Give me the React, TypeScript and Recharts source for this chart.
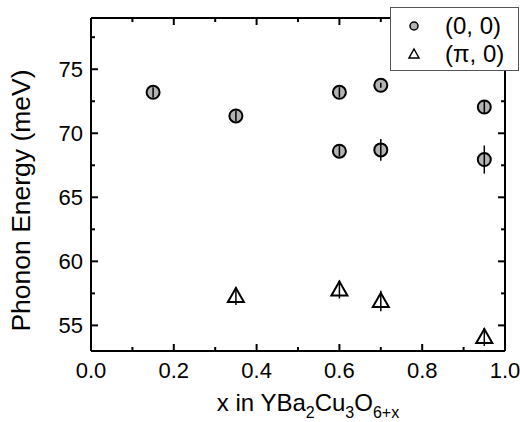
import React from 'react';
import { ScatterChart, Scatter, XAxis, YAxis, ErrorBar, Legend, Label, ReferenceLine } from 'recharts';

// (0, 0) points
const circleX = [0.15, 0.35, 0.6, 0.6, 0.7, 0.7, 0.95, 0.95];
const circleY = [73.2, 71.35, 73.2, 68.6, 73.75, 68.7, 72.05, 67.95];
const circleErr = [0.4, 0.4, 0.4, 0.4, 0.2, 0.85, 0.5, 1.1];

// (pi, 0) points
const triX = [0.35, 0.6, 0.7, 0.95];
const triY = [57.3, 57.8, 56.9, 54.1];
const triErr = [0.7, 0.7, 0.8, 0.7];

const xTicks = [0, 0.1, 0.2, 0.3, 0.4, 0.5, 0.6, 0.7, 0.8, 0.9, 1.0];
const xMajor = [0, 0.2, 0.4, 0.6, 0.8, 1.0];
const yTicks = [55, 57.5, 60, 62.5, 65, 67.5, 70, 72.5, 75, 77.5];
const yMajor = [55, 60, 65, 70, 75];
const xDomain = [0, 1];
const yDomain = [53, 79];

const seriesNames = ['(0, 0)', '(\u03c0, 0)'];

const circleData = circleX.map((x, i) => ({ x, y: circleY[i], err: circleErr[i] }));
const triData = triX.map((x, i) => ({ x, y: triY[i], err: triErr[i] }));

// layout
const W = 520;
const H = 422;
const MARGIN = { top: 18, right: 15, bottom: 0, left: 0 };
const PLOT_TOP = MARGIN.top;
const PLOT_RIGHT = W - MARGIN.right;

const FONT = '"Liberation Sans", Arial, sans-serif';
const isMajor = (list: number[], v: number) => list.some((m) => Math.abs(m - v) < 1e-6);
const black2 = { stroke: '#000', strokeWidth: 2 };

// bottom tick + label, and the matching inward tick on the top frame
const BottomTick = (props: any) => {
  const { x, y, payload } = props;
  const len = isMajor(xMajor, payload.value) ? 7 : 4;
  return (
    <g>
      <line x1={x} x2={x} y1={y} y2={y - len} {...black2} />
      <line x1={x} x2={x} y1={PLOT_TOP} y2={PLOT_TOP + len} {...black2} />
      {len === 7 && (
        <text x={x} y={y + 27} textAnchor="middle" fontSize={22} fontFamily={FONT} fill="#000">
          {payload.value.toFixed(1)}
        </text>
      )}
    </g>
  );
};

// left tick + label, and the matching inward tick on the right frame
const LeftTick = (props: any) => {
  const { x, y, payload } = props;
  const len = isMajor(yMajor, payload.value) ? 7 : 4;
  return (
    <g>
      <line x1={x} x2={x + len} y1={y} y2={y} {...black2} />
      <line x1={PLOT_RIGHT} x2={PLOT_RIGHT - len} y1={y} y2={y} {...black2} />
      {len === 7 && (
        <text x={x - 8} y={y + 8} textAnchor="end" fontSize={22} fontFamily={FONT} fill="#000">
          {payload.value}
        </text>
      )}
    </g>
  );
};

const CircleShape = (props: any) => (
  <circle cx={props.cx} cy={props.cy} r={6.5} fill="#b3b3b3" stroke="#000" strokeWidth={2} />
);

const TriangleShape = (props: any) => {
  const { cx, cy } = props;
  return (
    <path
      d={`M${cx},${cy - 8} L${cx + 8},${cy + 6} L${cx - 8},${cy + 6} Z`}
      fill="#fff"
      stroke="#000"
      strokeWidth={2}
    />
  );
};

const NoShape = () => <g />;

const YTitle = (props: any) => {
  const { viewBox } = props;
  const cx = viewBox.x + 21;
  const cy = viewBox.y + viewBox.height / 2 + 16;
  return (
    <text x={cx} y={cy} transform={`rotate(-90 ${cx} ${cy})`} textAnchor="middle" dominantBaseline="central" fontSize={26.5} fontFamily={FONT} fill="#000">
      Phonon Energy (meV)
    </text>
  );
};

const XTitle = (props: any) => {
  const { viewBox } = props;
  const cx = viewBox.x + viewBox.width / 2 + 10;
  return (
    <text x={cx} y={411} textAnchor="middle" fontSize={24} fontFamily={FONT} fill="#000">
      <tspan>x in YBa</tspan>
      <tspan dy={7} fontSize={16}>2</tspan>
      <tspan dy={-7}>Cu</tspan>
      <tspan dy={7} fontSize={16}>3</tspan>
      <tspan dy={-7}>O</tspan>
      <tspan dy={7} fontSize={16}>6+x</tspan>
    </text>
  );
};

const LegendBox = () => (
  <div
    style={{
      width: 129,
      height: 64,
      border: '1.5px solid #555',
      background: '#fff',
      fontFamily: FONT,
      fontSize: 24,
      boxSizing: 'border-box',
    }}
  >
    {seriesNames.map((name, i) => (
      <div key={name} style={{ height: 28, display: 'flex', alignItems: 'center', marginTop: i === 0 ? 4 : 0 }}>
        <svg width={50} height={28}>
          {i === 0 ? (
            <circle cx={23} cy={14} r={4} fill="#b3b3b3" stroke="#000" strokeWidth={1.5} />
          ) : (
            <path d="M23,9 L28,18 L18,18 Z" fill="#fff" stroke="#000" strokeWidth={1.5} />
          )}
        </svg>
        <span style={{ marginLeft: 4 }}>{name}</span>
      </div>
    ))}
  </div>
);

export default function App() {
  return (
    <div style={{ position: 'absolute', left: 0, top: 0, background: '#fff' }}>
      <ScatterChart width={W} height={H} margin={MARGIN}>
        <XAxis
          type="number"
          dataKey="x"
          domain={xDomain}
          ticks={xTicks}
          interval={0}
          height={71}
          tickSize={0}
          tickMargin={0}
          tickLine={false}
          tick={<BottomTick />}
          axisLine={black2}
          allowDataOverflow
        >
          <Label content={<XTitle />} />
        </XAxis>
        <YAxis
          type="number"
          dataKey="y"
          domain={yDomain}
          ticks={yTicks}
          interval={0}
          width={91}
          tickSize={0}
          tickMargin={0}
          tickLine={false}
          tick={<LeftTick />}
          axisLine={black2}
          allowDataOverflow
        >
          <Label content={<YTitle />} />
        </YAxis>
        {/* hidden twin axes so the error bars sit over the markers */}
        <XAxis xAxisId="eb" type="number" dataKey="x" domain={xDomain} hide allowDataOverflow />
        <YAxis yAxisId="eb" type="number" dataKey="y" domain={yDomain} hide allowDataOverflow />

        {/* top and right frame */}
        <ReferenceLine y={yDomain[1]} {...black2} />
        <ReferenceLine x={xDomain[1]} {...black2} />

        <Scatter name={seriesNames[0]} data={circleData} shape={<CircleShape />} isAnimationActive={false} />
        <Scatter name={seriesNames[1]} data={triData} shape={<TriangleShape />} isAnimationActive={false} />
        <Scatter xAxisId="eb" yAxisId="eb" data={circleData} shape={<NoShape />} isAnimationActive={false} legendType="none">
          <ErrorBar dataKey="err" direction="y" width={0} stroke="#000" strokeWidth={1.5} isAnimationActive={false} zIndex={700} />
        </Scatter>
        <Scatter xAxisId="eb" yAxisId="eb" data={triData} shape={<NoShape />} isAnimationActive={false} legendType="none">
          <ErrorBar dataKey="err" direction="y" width={0} stroke="#000" strokeWidth={1.5} isAnimationActive={false} zIndex={700} />
        </Scatter>
        <Legend
          layout="horizontal"
          align="center"
          verticalAlign="middle"
          content={<LegendBox />}
          wrapperStyle={{ left: 390, top: 7, width: 129, height: 64 }}
        />
      </ScatterChart>
    </div>
  );
}
